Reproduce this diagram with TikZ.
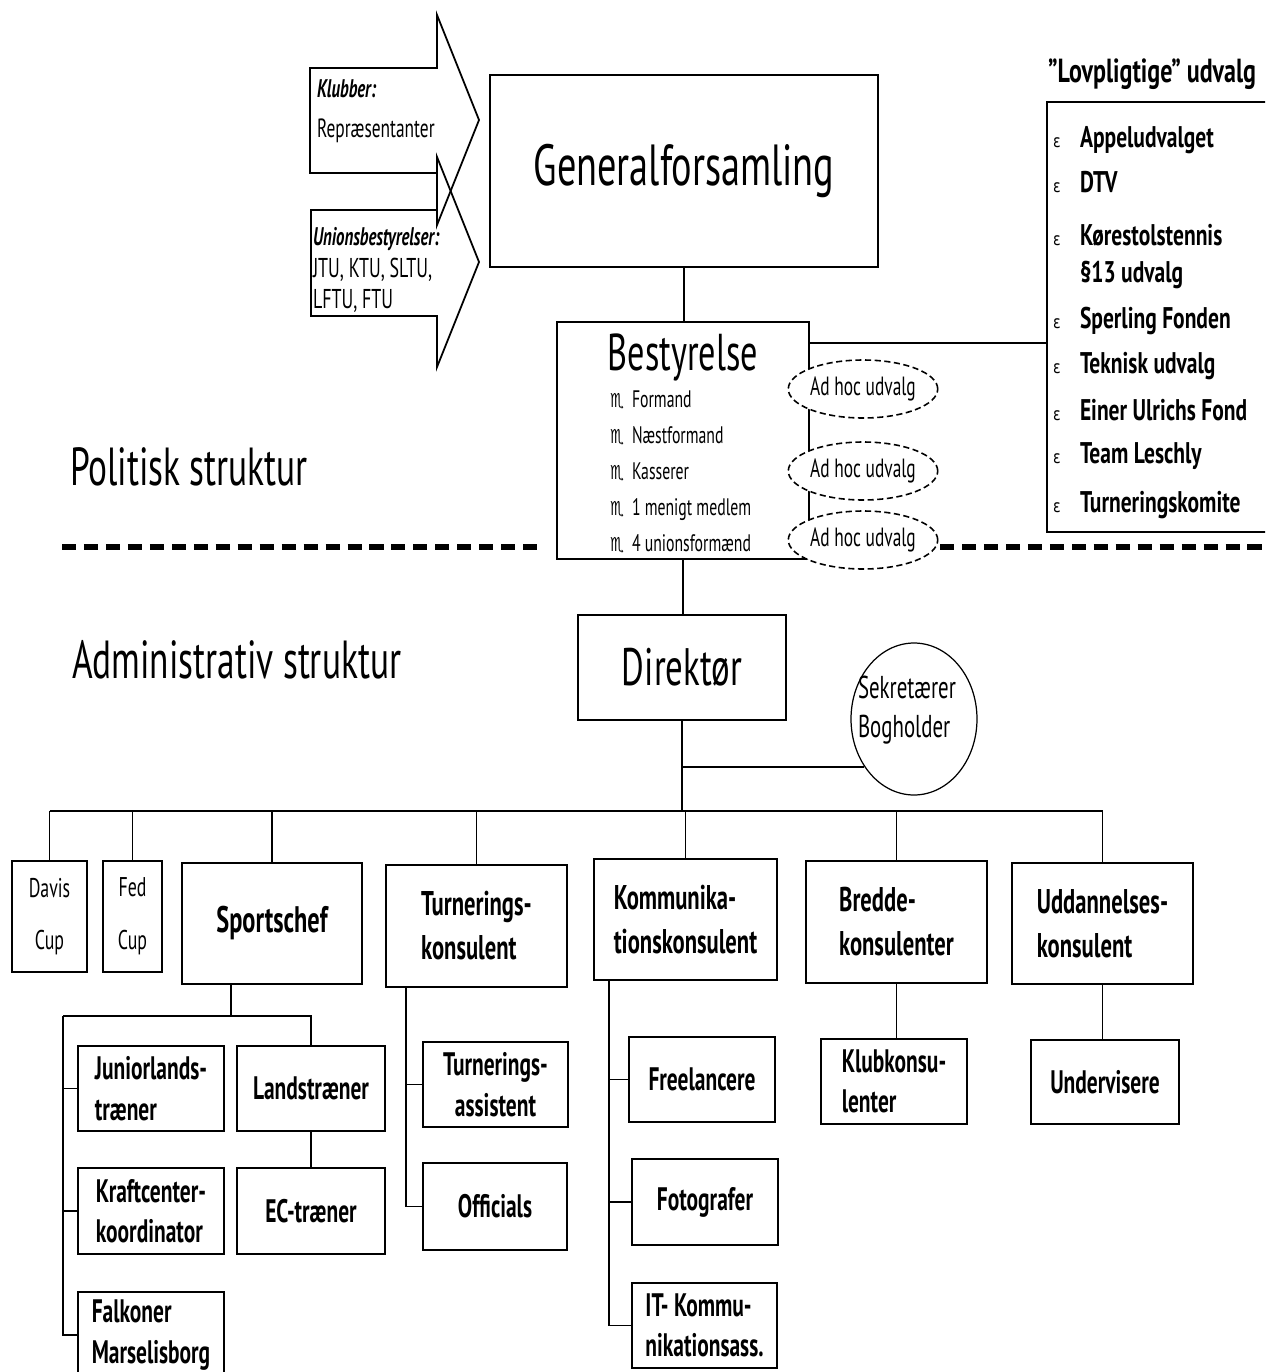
\documentclass[tikz,border=0pt]{standalone}
\usepackage{fontspec}
\setmainfont{PT Sans}[FakeStretch=0.66]
\newfontfamily\wb{PT Sans}[FakeStretch=0.72]
\newfontfamily\symf{DejaVu Sans}[FakeStretch=0.8]
\usetikzlibrary{shapes.geometric,calc}
\newcommand\fz[2]{\fontsize{#1}{#2}\selectfont}
\newcommand\bx[7][]{\node[box,minimum width={(#5-#3)*0.02cm},minimum height={(#6-#4)*0.02cm},#1] (#2) at ({(#3+#5)/2},{(#4+#6)/2}) {#7};}
\begin{document}
\begin{tikzpicture}[x=0.02cm,y=-0.02cm,line width=1pt,
  box/.style={draw,rectangle,line width=1.1pt,inner sep=0pt,outer sep=0pt,fill=white},
  conn/.style={line width=1pt},
  lbl/.style={font={\bfseries\fz{19.5}{25}},align=left},
  lbls/.style={font={\bfseries\fz{18.5}{23}},align=left},
  txt/.style={inner sep=0pt,outer sep=0pt,anchor=base west},
  adhoc/.style={draw,ellipse,dash pattern=on 3.5pt off 2pt,line width=0.9pt,fill=white,inner sep=0pt,minimum width=2.74cm,minimum height=1.16cm,font={\fz{15}{15}}},
  sep/.style={line width=3.4pt,dash pattern=on 8pt off 4.5pt}
]
\useasboundingbox (0,0) rectangle (1265,1372);
\fill[white] (0,0) rectangle (1265,1372);
\clip (0,0) rectangle (1265,1372);

% block arrows
\draw[line width=1pt] (310,68) -- (437,68) -- (437,15) -- (479,120) -- (437,225) -- (437,173) -- (310,173) -- cycle;
\draw[line width=1pt] (311,210) -- (437,210) -- (437,157) -- (479,262) -- (437,367) -- (437,316) -- (311,316) -- cycle;
\node[txt,font={\bfseries\itshape\fz{14.5}{15}}] (klb) at (317,97) {Klubber:};
\node[txt,font={\fz{15}{15}}] (rep) at (317,137) {Repræsentanter};
\node[txt,font={\bfseries\itshape\fz{14.5}{15}}] (unb) at (313,245) {Unionsbestyrelser:};
\node[txt,font={\fz{15.5}{15}}] (jtu) at (313,277) {JTU, KTU, SLTU,};
\node[txt,font={\fz{15.5}{15}}] (lftu) at (313,308) {LFTU, FTU};

% separator
\draw[sep] (62,547) coordinate (sepa) -- (545,547) coordinate (sepb);
\draw[sep] (940,547) coordinate (sepc) -- (1265,547) coordinate (sepd);

\node[txt,font={\fz{30.5}{30}}] (pol) at (70,485) {Politisk struktur};
\node[txt,font={\fz{30.5}{30}}] (adm) at (72,678) {Administrativ struktur};

% top boxes
\bx[line width=1.4pt,font={\fz{33}{33}}]{gen}{490}{75}{878}{267}{Generalforsamling}
\bx{best}{557}{322}{809}{559}{}
\bx[font={\fz{30}{30}}]{dir}{578}{615}{786}{720}{Direktør}
\bx{lov}{1047}{102}{1290}{532}{}

\node[txt,anchor=base,font={\fz{29.5}{30}}] (bt) at (683,370) {Bestyrelse};
\foreach \y/\lab [count=\i] in {407/Formand,443/Næstformand,479/Kasserer,515/1 menigt medlem,551/4 unionsformænd}{
  \node[txt,font={\symf\fz{11}{11}}] (bs\i) at (610,\y) {♏};
  \node[txt,font={\fz{13.6}{14}}] (b\i) at (632,\y) {\lab};
}

\node[adhoc] (ah1) at (863,389) {Ad hoc udvalg};
\node[adhoc] (ah2) at (863,471) {Ad hoc udvalg};
\node[adhoc] (ah3) at (863,540) {Ad hoc udvalg};

\node[txt,font={\wb\bfseries\fz{19}{19}}] (lovt) at (1048,83) {”Lovpligtige” udvalg};
\foreach \y/\lab [count=\i] in {147/Appeludvalget,192/DTV,245/Kørestolstennis,328/Sperling Fonden,373/Teknisk udvalg,420/Einer Ulrichs Fond,463/Team Leschly,512/Turneringskomite}{
  \node[txt,font={\symf\fz{10}{10}}] (ls\i) at (1053,\y) {ε};
  \node[txt,font={\wb\bfseries\fz{17}{17}}] (li\i) at (1080,\y) {\lab};
}
\node[txt,font={\wb\bfseries\fz{17}{17}}] (l13) at (1080,282) {§13 udvalg};

% Sekretaerer
\node[draw,ellipse,line width=0.7pt,minimum width=2.52cm,minimum height=3.04cm,inner sep=0pt] (sek) at (914,719) {};
\node[txt,font={\fz{18}{18}}] (sek1) at (858,698) {Sekretærer};
\node[txt,font={\fz{18}{18}}] (sek2) at (858,737) {Bogholder};

% first row
\bx[font={\fz{15.4}{30}},align=center]{davis}{12}{861}{87}{972}{Davis\\Cup}
\bx[font={\fz{15.4}{30}},align=center]{fed}{103}{861}{162}{972}{Fed\\Cup}
\bx[font={\bfseries\fz{21}{21}}]{sport}{182}{863}{362}{984}{Sportschef}
\bx[lbl]{turn}{386}{865}{567}{987}{Turnerings-\\konsulent}
\bx[lbl]{komm}{594}{859}{777}{980}{Kommunika-\\tionskonsulent}
\bx[lbl]{bred}{806}{861}{987}{983}{Bredde-\\konsulenter}
\bx[lbl]{udd}{1012}{863}{1193}{984}{Uddannelses-\\konsulent}

% second level
\bx[lbls]{jun}{78}{1046}{224}{1131}{Juniorlands-\\træner}
\bx[lbls]{land}{237}{1046}{385}{1131}{Landstræner}
\bx[lbls]{kraft}{78}{1168}{224}{1254}{Kraftcenter-\\koordinator}
\bx[lbls]{ec}{237}{1168}{385}{1254}{EC-træner}
\bx[lbls]{falk}{78}{1292}{224}{1378}{Falkoner\\Marselisborg}
\bx[lbls,align=center]{tass}{423}{1042}{568}{1127}{Turnerings-\\assistent}
\bx[lbls]{off}{423}{1163}{567}{1250}{Officials}
\bx[lbls]{free}{629}{1037}{775}{1122}{Freelancere}
\bx[lbls]{foto}{632}{1159}{778}{1245}{Fotografer}
\bx[lbls]{it}{632}{1283}{777}{1368}{IT- Kommu-\\nikationsass.}
\bx[lbls]{klub}{821}{1039}{967}{1124}{Klubkonsu-\\lenter}
\bx[lbls]{underv}{1031}{1040}{1179}{1124}{Undervisere}

% connectors
\draw[conn] (gen.south) -- (gen.south |- best.north);
\draw[conn] (best.south) -- (best.south |- dir.north);
\path (best.north east) ++(0,21) coordinate (bl);
\draw[conn] (bl) -- (bl -| lov.west);
\coordinate (bus) at (0,811);
\draw[conn] (davis.north |- bus) -- (udd.north |- bus);
\draw[conn] (dir.south) -- (dir.south |- bus);
\foreach \n in {davis,fed,sport,turn,komm,bred,udd}{
  \draw[conn] (\n.north) -- (\n.north |- bus);
}
\draw[conn] (sek.224) -- (sek.224 -| dir.south);

\coordinate (sj) at (231,1016);
\coordinate (sL) at (63,1016);
\draw[conn] (sj |- sport.south) -- (sj);
\draw[conn] (sL) -- (sL -| land.north) -- (land.north);
\draw[conn] (sL) |- (jun.west);
\draw[conn] (sL) |- (kraft.west);
\draw[conn] (sL) |- (falk.west);
\draw[conn] (land.south) -- (ec.north);

\coordinate (tj) at (406,0);
\draw[conn] (turn.south -| tj) |- (tass.west);
\draw[conn] (turn.south -| tj) |- (off.west);
\coordinate (kj) at (609,0);
\draw[conn] (komm.south -| kj) |- (free.west);
\draw[conn] (komm.south -| kj) |- (foto.west);
\draw[conn] (komm.south -| kj) |- (it.west);
\draw[conn] (bred.south) -- (bred.south |- klub.north);
\draw[conn] (udd.south) -- (udd.south |- underv.north);
\end{tikzpicture}
\end{document}
